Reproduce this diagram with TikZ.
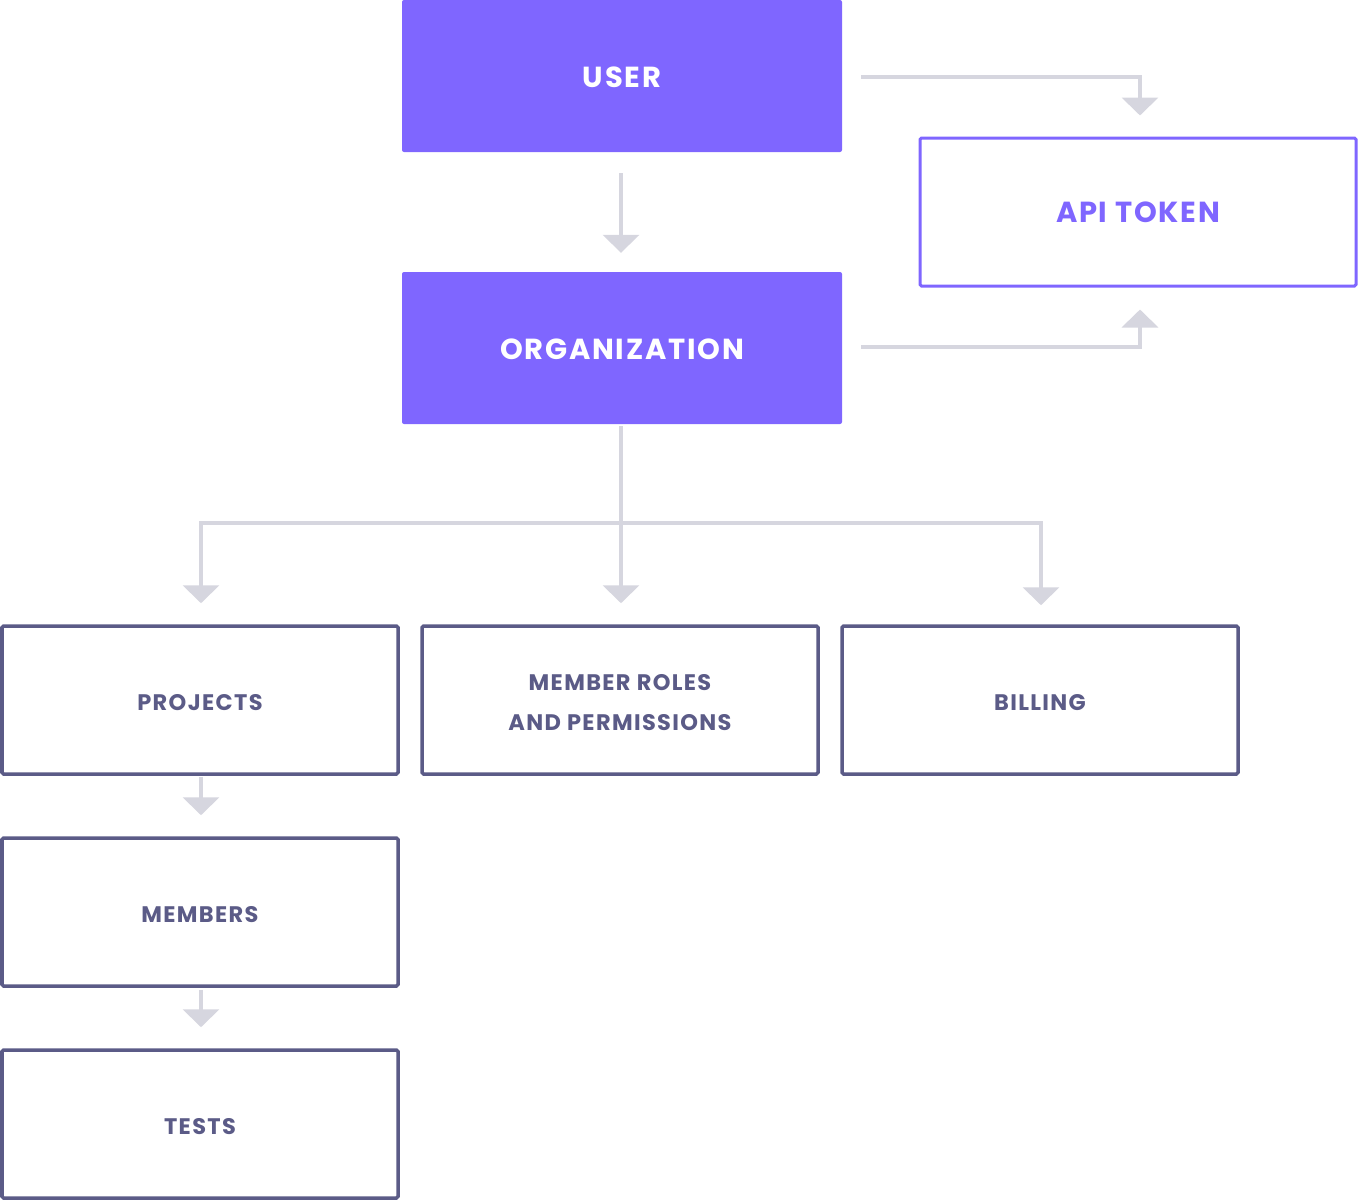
\documentclass[tikz,border=0pt]{standalone}
\usepackage{fontspec}
\setmainfont{Poppins}[LetterSpace=6]
\usetikzlibrary{arrows.meta,calc}
\definecolor{brand}{HTML}{7F66FF}
\definecolor{ink}{HTML}{5B5B87}
\definecolor{wire}{HTML}{D6D6DF}
\begin{document}
\begin{tikzpicture}[x=1pt,y=-1pt,
  topbox/.style={fill=brand,draw=none,rounded corners=2pt,minimum width=440pt,minimum height=152pt,inner sep=0pt},
  toptext/.style={text=white,inner sep=0pt,font=\fontsize{29}{34}\selectfont\bfseries},
  apibox/.style={fill=white,draw=brand,line width=3pt,rounded corners=1.5pt,minimum width=436pt,minimum height=148pt,inner sep=0pt},
  apitext/.style={text=brand,inner sep=0pt,font=\fontsize{29}{34}\selectfont\bfseries},
  subbox/.style={fill=white,draw=ink,line width=3.5pt,rounded corners=1.5pt,minimum width=396pt,minimum height=148pt,inner sep=0pt},
  subtext/.style={text=ink,align=center,inner sep=0pt,font=\fontsize{22.5}{40}\selectfont\bfseries},
  wireline/.style={draw=wire,line width=4pt},
  arr/.style={wireline,-{Triangle[width=36pt,length=18pt]}},
]
\useasboundingbox (0,0) rectangle (1358,1200);

\node[topbox,label={[toptext,yshift=-1pt]center:USER}] (user) at (622,76) {};
\node[topbox,label={[toptext,yshift=-1pt]center:ORGANIZATION}] (org) at (622,348) {};
\node[apibox,label={[apitext]center:API TOKEN}] (api) at (1138,212) {};

\node[subbox,label={[subtext,yshift=-3pt]center:PROJECTS}] (proj) at (200,700) {};
\node[subbox,label={[subtext,yshift=-3pt]center:{MEMBER ROLES\\AND PERMISSIONS}}] (roles) at (620,700) {};
\node[subbox,label={[subtext,yshift=-3pt]center:BILLING}] (bill) at (1040,700) {};
\node[subbox,label={[subtext,yshift=-3pt]center:MEMBERS}] (mem) at (200,912) {};
\node[subbox,label={[subtext,yshift=-3pt]center:TESTS}] (tests) at (200,1124) {};

% user -> organization
\draw[arr,shorten <=21pt,shorten >=19pt] ([xshift=-1pt]user.south) -- ([xshift=-1pt]org.north);
% user -> api token
\draw[arr,shorten <=19pt,shorten >=21pt] ([yshift=-1pt]user.east) -| ([xshift=2pt]api.north);
% organization -> api token
\draw[arr,shorten <=19pt,shorten >=22pt] ([yshift=1pt]org.east) -| ([xshift=2pt]api.south);

% organization -> children
\coordinate (hub) at ($([xshift=-1pt]org.south)+(0,99)$);
\draw[wireline,shorten <=2pt] ([xshift=-1pt]org.south) -- (hub);
\draw[arr,shorten >=21pt,line join=miter] (hub) -| ([xshift=1pt]proj.north);
\draw[arr,shorten >=21pt] (hub) -- ([xshift=1pt]roles.north);
\draw[arr,shorten >=19pt,line join=miter] (hub) -| ([xshift=1pt]bill.north);

% projects -> members -> tests
\draw[arr,shorten <=1pt,shorten >=21pt] ([xshift=1pt]proj.south) -- ([xshift=1pt]mem.north);
\draw[arr,shorten <=2pt,shorten >=21pt] ([xshift=1pt]mem.south) -- ([xshift=1pt]tests.north);
\end{tikzpicture}
\end{document}
